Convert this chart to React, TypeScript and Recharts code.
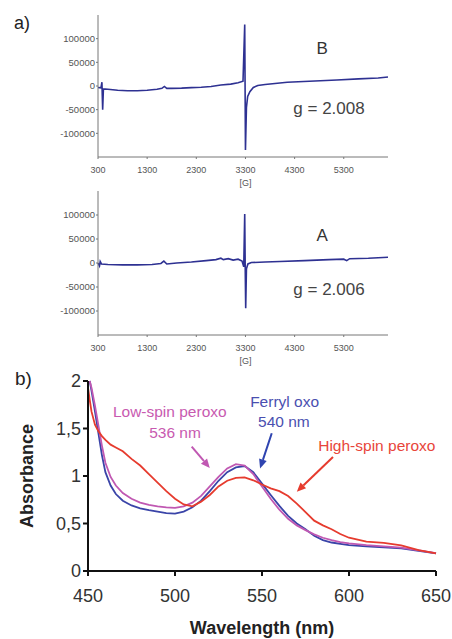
import React from "react";
import { LineChart, Line, XAxis, YAxis, ReferenceDot, ReferenceLine } from "recharts";

// ── EPR spectra (magnetic field in G, signal intensity) ───────────────────
const fieldB = [300, 360, 380, 395, 410, 500, 700, 900, 1100, 1300, 1500, 1600, 1650, 1700, 1800, 2000, 2200, 2400, 2600, 2800, 3000, 3150, 3250, 3285, 3300, 3320, 3345, 3390, 3460, 3550, 3700, 4150, 4600, 5160, 5600, 6000, 6200];
const signalB = [-3000, -4000, 8000, -50000, -6000, -7000, -9000, -10000, -10000, -9000, -7000, -5000, -1000, -5000, -5000, -4500, -3500, -2500, -1000, 2000, 4000, 7000, 10000, 130000, -135000, -45000, -22000, -12000, -3000, 1000, 3000, 8000, 10000, 12700, 15000, 17000, 19000];

const fieldA = [300, 330, 345, 370, 500, 800, 1100, 1400, 1580, 1640, 1700, 1900, 2200, 2500, 2700, 2800, 2850, 2950, 3050, 3150, 3230, 3265, 3285, 3295, 3305, 3320, 3350, 3420, 3700, 4000, 4500, 5000, 5300, 5360, 5420, 5800, 6200];
const signalA = [0, -6000, 3000, -2000, -3000, -4000, -4000, -3000, -1000, 4000, -2000, 0, 2000, 5000, 7000, 10000, 7000, 9000, 6000, 8000, 4000, -8000, 102000, -10000, -94000, -12000, -2000, 1000, 2000, 3000, 5000, 7000, 8000, 5000, 9000, 10000, 12000];

const fieldTicks = [300, 1300, 2300, 3300, 4300, 5300];
const signalTicks = [-100000, -50000, 0, 50000, 100000];

// ── UV-vis spectra ─────────────────────────────────────────────────────────
const wavelength = [450, 451, 452, 454, 456, 458, 460, 463, 466, 470, 475, 480, 485, 490, 495, 500, 505, 510, 515, 520, 525, 530, 535, 540, 545, 550, 555, 560, 565, 570, 575, 580, 585, 590, 595, 600, 610, 620, 630, 640, 650];
const ferrylOxo = [null, 2.0, 1.9, 1.68, 1.45, 1.22, 1.04, 0.9, 0.81, 0.74, 0.69, 0.66, 0.64, 0.625, 0.61, 0.605, 0.625, 0.67, 0.74, 0.84, 0.95, 1.04, 1.09, 1.105, 1.04, 0.92, 0.8, 0.685, 0.58, 0.5, 0.44, 0.37, 0.325, 0.3, 0.285, 0.272, 0.26, 0.25, 0.238, 0.213, 0.185];
const lowSpin = [null, 2.0, 1.93, 1.74, 1.53, 1.32, 1.14, 0.99, 0.9, 0.82, 0.76, 0.72, 0.695, 0.68, 0.67, 0.665, 0.68, 0.72, 0.79, 0.89, 0.99, 1.08, 1.125, 1.11, 1.02, 0.89, 0.76, 0.645, 0.55, 0.48, 0.43, 0.385, 0.35, 0.325, 0.305, 0.29, 0.272, 0.26, 0.245, 0.218, 0.187];
const highSpin = [1.93, 1.8, 1.68, 1.54, 1.47, 1.42, 1.38, 1.33, 1.3, 1.26, 1.18, 1.11, 1.02, 0.93, 0.84, 0.76, 0.7, 0.68, 0.73, 0.8, 0.89, 0.95, 0.98, 0.985, 0.955, 0.91, 0.87, 0.84, 0.79, 0.71, 0.62, 0.53, 0.48, 0.44, 0.39, 0.35, 0.31, 0.295, 0.27, 0.22, 0.185];

const wlTicks = [450, 500, 550, 600, 650];
const absTicks = [0, 0.5, 1, 1.5, 2];

const FONT = "'Liberation Sans', Arial, sans-serif";
const EPR_BLUE = "#2e3192";

const eprB = fieldB.map((g, i) => ({ g, v: signalB[i] }));
const eprA = fieldA.map((g, i) => ({ g, v: signalA[i] }));
const uvData = wavelength.map((w, i) => ({ w, ferryl: ferrylOxo[i], low: lowSpin[i], high: highSpin[i] }));

// ── Renderers ──────────────────────────────────────────────────────────────

const FieldTick = (props: any) => {
  const { x, y, payload } = props;
  return (
    <g>
      <text x={x} y={y} dy={12} textAnchor="middle" fontSize={9} fill="#555" fontFamily={FONT}>
        {payload.value}
      </text>
      {payload.value === 3300 && (
        <text x={x} y={y} dy={24.5} textAnchor="middle" fontSize={9} fill="#555" fontFamily={FONT}>
          [G]
        </text>
      )}
    </g>
  );
};

const textShape = (label: string, color: string, size: number) => (p: any) => (
  <text x={p.cx} y={p.cy} textAnchor="middle" dominantBaseline="central"
    fontSize={size} fill={color} fontFamily={FONT}>
    {label}
  </text>
);

const arrowShape = (color: string) => (p: any) => {
  const { x1, y1, x2, y2 } = p;
  const a = Math.atan2(y2 - y1, x2 - x1);
  const L = 9, W = 4;
  const bx = x2 - L * Math.cos(a), by = y2 - L * Math.sin(a);
  const pts = `${x2},${y2} ${bx + W * Math.sin(a)},${by - W * Math.cos(a)} ${bx - W * Math.sin(a)},${by + W * Math.cos(a)}`;
  return (
    <g>
      <line x1={x1} y1={y1} x2={bx} y2={by} stroke={color} strokeWidth={2} />
      <polygon points={pts} fill={color} />
    </g>
  );
};

function EprPanel({ data, letter, g, letterY, gY, height, xAxisH }: any) {
  return (
    <LineChart width={452} height={height} data={data} margin={{ top: 15, right: 64, bottom: 0, left: 0 }}>
      <XAxis dataKey="g" type="number" domain={[300, 6200]} ticks={fieldTicks} height={xAxisH}
        stroke="#777" tickSize={2} tickMargin={2} tick={<FieldTick />} interval={0} />
      <YAxis type="number" domain={[-150000, 150000]} ticks={signalTicks} width={98}
        stroke="#777" tickSize={2} tickMargin={1} interval={0}
        tick={{ fontSize: 9.5, fill: "#555", fontFamily: FONT }} />
      <Line dataKey="v" stroke={EPR_BLUE} strokeWidth={1.6} dot={false} activeDot={false} isAnimationActive={false} />
      <ReferenceDot x={4860} y={letterY} r={0} shape={textShape(letter, "#333", 17)} />
      <ReferenceDot x={5000} y={gY} r={0} shape={textShape(g, "#444", 17)} />
    </LineChart>
  );
}

export default function App() {
  return (
    <div style={{ position: "absolute", left: 0, top: 0, width: 452, height: 639, background: "#fff", fontFamily: FONT, overflow: "hidden" }}>
      <div style={{ position: "absolute", left: 0, top: 0 }}>
        <EprPanel data={eprB} letter="B" g="g = 2.008" letterY={80000} gY={-46500} height={195} xAxisH={38} />
      </div>
      <div style={{ position: "absolute", left: 0, top: 176 }}>
        <EprPanel data={eprA} letter="A" g="g = 2.006" letterY={58000} gY={-56000} height={200} xAxisH={41} />
      </div>

      <div style={{ position: "absolute", left: 0, top: 360 }}>
        <LineChart width={452} height={279} data={uvData} margin={{ top: 21, right: 16, bottom: 0, left: 0 }}>
          <XAxis dataKey="w" type="number" domain={[450, 650]} ticks={wlTicks} height={68} interval={0}
            axisLine={{ stroke: "#111", strokeWidth: 2 }} tickLine={{ stroke: "#111", strokeWidth: 2 }}
            tickSize={5} tickMargin={13}
            tick={{ fontSize: 18, fill: "#333", fontFamily: FONT }}
            label={{
              content: (p: any) => (
                <text x={p.viewBox.x + p.viewBox.width / 2} y={p.viewBox.y + 57} textAnchor="middle"
                  dominantBaseline="central" fontSize={18} fontWeight="bold" fill="#222" fontFamily={FONT}>
                  Wavelength (nm)
                </text>
              ),
            }} />
          <YAxis type="number" domain={[0, 2]} ticks={absTicks} width={88} interval={0}
            axisLine={{ stroke: "#111", strokeWidth: 2 }} tickLine={{ stroke: "#111", strokeWidth: 2 }}
            tickSize={5} tickMargin={2}
            tickFormatter={(v: number) => String(v).replace(".", ",")}
            tick={{ fontSize: 18, fill: "#333", fontFamily: FONT }}
            label={{
              content: (p: any) => {
                const cx = p.viewBox.x + 27;
                const cy = p.viewBox.y + p.viewBox.height / 2;
                return (
                  <text x={cx} y={cy} transform={`rotate(-90 ${cx} ${cy})`} textAnchor="middle"
                    dominantBaseline="central" fontSize={18} fontWeight="bold" fill="#222" fontFamily={FONT}>
                    Absorbance
                  </text>
                );
              },
            }} />

          <Line dataKey="ferryl" stroke="#3a44a8" strokeWidth={1.8} dot={false} activeDot={false} isAnimationActive={false} />
          <Line dataKey="low" stroke="#c058b2" strokeWidth={1.8} dot={false} activeDot={false} isAnimationActive={false} />
          <Line dataKey="high" stroke="#e63b2e" strokeWidth={1.8} dot={false} activeDot={false} isAnimationActive={false} />

          <ReferenceDot x={497} y={1.674} r={0} shape={textShape("Low-spin peroxo", "#c85ab0", 15.5)} />
          <ReferenceDot x={500} y={1.463} r={0} shape={textShape("536 nm", "#c85ab0", 15.5)} />
          <ReferenceLine segment={[{ x: 509.6, y: 1.31 }, { x: 520, y: 1.084 }]} shape={arrowShape("#c058b2")} />

          <ReferenceDot x={563} y={1.78} r={0} shape={textShape("Ferryl oxo", "#4a4fb0", 15.5)} />
          <ReferenceDot x={562.6} y={1.57} r={0} shape={textShape("540 nm", "#4a4fb0", 15.5)} />
          <ReferenceLine segment={[{ x: 555.6, y: 1.45 }, { x: 548.9, y: 1.08 }]} shape={arrowShape("#2f44b0")} />

          <ReferenceDot x={616} y={1.326} r={0} shape={textShape("High-spin peroxo", "#e8453a", 15.5)} />
          <ReferenceLine segment={[{ x: 590.8, y: 1.2 }, { x: 570, y: 0.835 }]} shape={arrowShape("#e63b2e")} />
        </LineChart>
      </div>

      <div style={{ position: "absolute", left: 14, top: 13, fontSize: 18, color: "#222" }}>a)</div>
      <div style={{ position: "absolute", left: 15, top: 368, fontSize: 19, color: "#222" }}>b)</div>
    </div>
  );
}
